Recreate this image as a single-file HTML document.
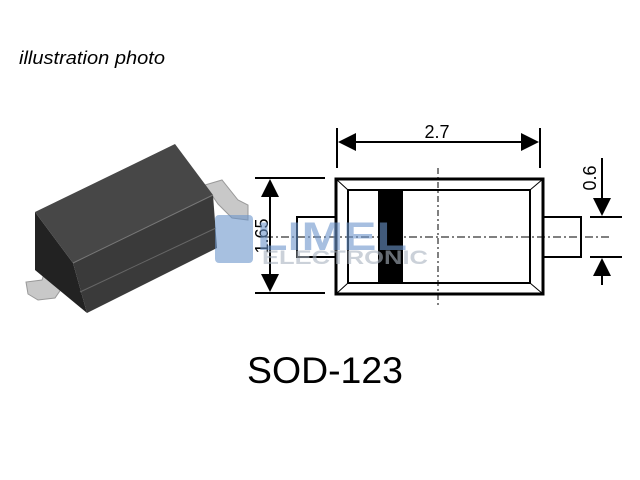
<!DOCTYPE html><html><head><style>body{margin:0;background:#fff}svg{display:block}</style></head><body>
<svg width="640" height="480" viewBox="0 0 640 480" xmlns="http://www.w3.org/2000/svg" font-family="Liberation Sans, sans-serif">
<text x="19" y="64" font-size="18" font-style="italic" fill="#000" textLength="146" lengthAdjust="spacingAndGlyphs">illustration photo</text>
<!-- photo -->
<polygon points="205,185 222,180 238,200 248,205 248,220 232,218 218,204" fill="#c8c8c8" stroke="#999"/>
<polygon points="48,262 62,260 66,282 55,298 38,300 28,294 26,282 42,280" fill="#c8c8c8" stroke="#999"/>
<polygon points="35,212 73,263 87,313 35,270" fill="#222"/>
<polygon points="35,212 175,144 213,195 73,263" fill="#474747"/>
<polygon points="73,263 213,195 217,248 87,313" fill="#3a3a3a"/>
<polyline points="73,263 213,195" stroke="#777" fill="none"/>
<polyline points="80,292 216,228" stroke="#666" fill="none"/>
<g stroke="#000" fill="none">
<rect x="297" y="217" width="39" height="40" stroke-width="2"/>
<rect x="543" y="217" width="38" height="40" stroke-width="2"/>
<rect x="336" y="179" width="207" height="115" stroke-width="3" fill="#fff"/>
<rect x="348" y="190" width="182" height="93" stroke-width="2"/>
<line x1="336" y1="179" x2="348" y2="190"/><line x1="543" y1="179" x2="530" y2="190"/>
<line x1="336" y1="294" x2="348" y2="283"/><line x1="543" y1="294" x2="530" y2="283"/>
<line x1="265" y1="237" x2="610" y2="237" stroke-dasharray="8,3,2,3"/>
<line x1="438" y1="168" x2="438" y2="305" stroke-dasharray="6,3,2,3"/>
<line x1="337" y1="128" x2="337" y2="168" stroke-width="2"/>
<line x1="540" y1="128" x2="540" y2="168" stroke-width="2"/>
<line x1="345" y1="142" x2="532" y2="142" stroke-width="2"/>
<line x1="255" y1="178" x2="325" y2="178" stroke-width="2"/>
<line x1="255" y1="293" x2="325" y2="293" stroke-width="2"/>
<line x1="270" y1="186" x2="270" y2="285" stroke-width="2"/>
<line x1="590" y1="217" x2="622" y2="217" stroke-width="2"/>
<line x1="590" y1="257" x2="622" y2="257" stroke-width="2"/>
<line x1="602" y1="158" x2="602" y2="210" stroke-width="2"/>
<line x1="602" y1="264" x2="602" y2="285" stroke-width="2"/>
</g>
<rect x="378" y="190" width="25" height="93" fill="#000"/>
<g fill="#000">
<polygon points="338,142 356,133 356,151"/><polygon points="539,142 521,133 521,151"/>
<polygon points="270,179 261,197 279,197"/><polygon points="270,292 261,274 279,274"/>
<polygon points="602,216 593,198 611,198"/><polygon points="602,258 593,276 611,276"/>
</g>
<text x="437" y="138" font-size="18" text-anchor="middle">2.7</text>
<text transform="translate(268,236) rotate(-90)" font-size="18" text-anchor="middle">1.65</text>
<text transform="translate(596,178) rotate(-90)" font-size="18" text-anchor="middle">0.6</text>
<!-- watermark -->
<g opacity="0.6">
<rect x="215" y="215" width="38" height="48" rx="4" fill="#6d96cc"/>
<text x="257" y="250" font-size="40" font-weight="bold" fill="#6d96cc" textLength="150" lengthAdjust="spacingAndGlyphs">LIMEL</text>
<text x="262" y="264" font-size="19" font-weight="bold" fill="#aab4c0" textLength="166" lengthAdjust="spacingAndGlyphs">ELECTRONIC</text>
</g>
<text x="325" y="383" font-size="37" text-anchor="middle" textLength="156" lengthAdjust="spacingAndGlyphs">SOD-123</text>
</svg></body></html>
